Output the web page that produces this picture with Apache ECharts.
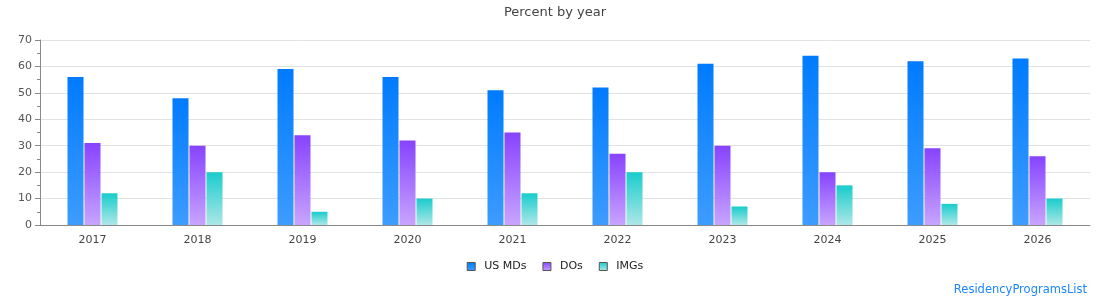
<!DOCTYPE html>
<html>
<head>
<meta charset="utf-8">
<script src="https://cdn.jsdelivr.net/npm/echarts@6/dist/echarts.min.js"></script>
<style>
  html, body { margin: 0; padding: 0; background: #fff; }
  #chart { width: 1110px; height: 300px; }
</style>
</head>
<body>
<div id="chart"></div>
<script>
var years = ["2017", "2018", "2019", "2020", "2021", "2022", "2023", "2024", "2025", "2026"];
var usMDs = [56, 48, 59, 56, 51, 52, 61, 64, 62, 63];
var dos = [31, 30, 34, 32, 35, 27, 30, 20, 29, 26];
var imgs = [12, 20, 5, 10, 12, 20, 7, 15, 8, 10];

var dom = document.getElementById("chart");
var chart = echarts.init(dom, null, { renderer: "canvas" });

function grad(top, bottom) {
  return new echarts.graphic.LinearGradient(0, 0, 0, 1, [
    { offset: 0, color: top },
    { offset: 1, color: bottom },
  ]);
}

var font = "DejaVu Sans";

var option = {
  animation: false,
  textStyle: { fontFamily: font },
  title: {
    text: "Percent by year",
    left: "center",
    top: 1,
    textStyle: { fontFamily: font, fontSize: 13, fontWeight: "normal", color: "#444" },
  },
  legend: {
    bottom: 23,
    left: "center",
    icon: "rect",
    itemWidth: 8,
    itemHeight: 8,
    itemGap: 16,
    textStyle: { fontFamily: font, fontSize: 11, color: "#222", padding: [0, 0, 0, 4] },
    itemStyle: { borderColor: "#555", borderWidth: 1 },
    data: ["US MDs", "DOs", "IMGs"],
  },
  grid: { left: 40, right: 20, top: 40, bottom: 75 },
  xAxis: {
    type: "category",
    data: years,
    axisTick: { show: false },
    axisLine: { lineStyle: { color: "#888" } },
    axisLabel: { fontFamily: font, fontSize: 11, color: "#444", margin: 10 },
  },
  yAxis: {
    type: "value",
    min: 0,
    max: 70,
    interval: 10,
    axisLine: { show: true, lineStyle: { color: "#888" } },
    axisTick: { show: true, length: 5, lineStyle: { color: "#888" } },
    minorTick: { show: true, splitNumber: 2, length: 3, lineStyle: { color: "#888" } },
    splitLine: { lineStyle: { color: "#e2e2e2" } },
    axisLabel: { fontFamily: font, fontSize: 11, color: "#555", margin: 8 },
  },
  series: [
    {
      name: "US MDs",
      type: "bar",
      barWidth: 16,
      barGap: "6.25%",
      color: "#0a7cff",
      itemStyle: { color: grad("#007bff", "#3d9cff") },
      data: usMDs,
    },
    {
      name: "DOs",
      type: "bar",
      barWidth: 16,
      barGap: "6.25%",
      color: "#8a44ff",
      itemStyle: { color: grad("#8743ff", "#c8a4ff") },
      data: dos,
    },
    {
      name: "IMGs",
      type: "bar",
      barWidth: 16,
      barGap: "6.25%",
      color: "#1ccccc",
      itemStyle: { color: grad("#19cccc", "#aee7e7") },
      data: imgs,
    },
  ],
  graphic: [
    {
      type: "text",
      right: 23,
      bottom: 4,
      style: {
        text: "ResidencyProgramsList",
        fill: "#1a86ff",
        font: "11.5px DejaVu Sans",
      },
    },
  ],
};

chart.setOption(option);
window.addEventListener("resize", chart.resize);
</script>
</body>
</html>
